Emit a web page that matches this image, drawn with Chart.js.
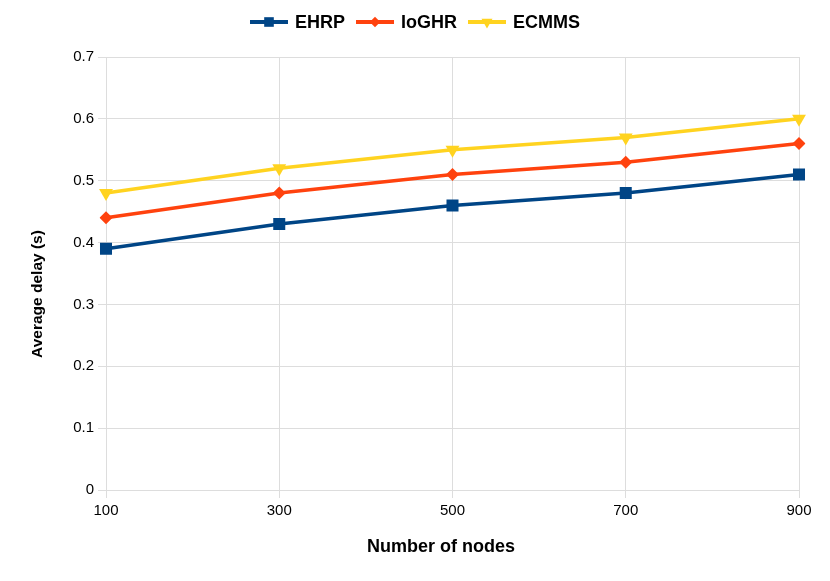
<!DOCTYPE html>
<html>
<head>
<meta charset="utf-8">
<script src="https://cdn.jsdelivr.net/npm/chart.js@4.4.0/dist/chart.umd.min.js"></script>
<style>
  html, body { margin: 0; padding: 0; background: #ffffff; }
  #wrap { width: 830px; height: 581px; }
</style>
</head>
<body>
<div id="wrap"><canvas id="lineChart" width="830" height="581"></canvas></div>
<script>
// data
var nodes = ["100", "300", "500", "700", "900"];
var ehrp = [0.39, 0.43, 0.46, 0.48, 0.51];
var ioghr = [0.44, 0.48, 0.51, 0.53, 0.56];
var ecmms = [0.48, 0.52, 0.55, 0.57, 0.60];
var seriesNames = ["EHRP", "IoGHR", "ECMMS"];
var xTitle = "Number of nodes";
var yTitle = "Average delay (s)";

var fontFamily = "'Liberation Sans', Arial, sans-serif";

// legend + axis titles drawn by hand (office style: line with marker in the middle)
var handDrawn = {
  id: "handDrawn",
  afterDraw: function (chart) {
    var ctx = chart.ctx;
    var sets = chart.data.datasets;
    var lineLen = 38, gap = 7, itemGap = 11, y = 22;
    ctx.save();
    ctx.font = "bold 18px " + fontFamily;
    var total = 0;
    var widths = sets.map(function (ds) {
      var w = ctx.measureText(ds.label).width;
      total += lineLen + gap + w;
      return w;
    });
    total += itemGap * (sets.length - 1);
    var x = (chart.width - total) / 2;
    sets.forEach(function (ds, i) {
      ctx.strokeStyle = ds.borderColor;
      ctx.lineWidth = 4;
      ctx.beginPath();
      ctx.moveTo(x, y);
      ctx.lineTo(x + lineLen, y);
      ctx.stroke();
      ctx.fillStyle = ds.borderColor;
      Chart.helpers.drawPoint(ctx, {
        pointStyle: ds.pointStyle,
        radius: ds.pointRadius * 0.8,
        rotation: ds.pointRotation || 0,
        borderWidth: 0
      }, x + lineLen / 2, y);
      ctx.fillStyle = "#000000";
      ctx.textBaseline = "middle";
      ctx.textAlign = "left";
      ctx.fillText(ds.label, x + lineLen + gap, y + 1);
      x += lineLen + gap + widths[i] + itemGap;
    });

    // axis titles
    ctx.fillStyle = "#000000";
    ctx.textAlign = "center";
    ctx.textBaseline = "middle";
    ctx.font = "bold 18px " + fontFamily;
    ctx.fillText(xTitle, 441, 547);
    ctx.translate(38, 294);
    ctx.rotate(-Math.PI / 2);
    ctx.font = "bold 15.5px " + fontFamily;
    ctx.fillText(yTitle, 0, 0);
    ctx.restore();
  }
};

function makeSet(label, values, color, style, radius, rotation) {
  return {
    label: label,
    data: values,
    borderColor: color,
    backgroundColor: color,
    borderWidth: 3.5,
    pointStyle: style,
    pointRadius: radius,
    pointHoverRadius: radius,
    pointRotation: rotation,
    pointBorderWidth: 0,
    tension: 0
  };
}

new Chart(document.getElementById("lineChart"), {
  type: "line",
  data: {
    labels: nodes,
    datasets: [
      makeSet(seriesNames[0], ehrp, "#004586", "rect", 8.5, 0),
      makeSet(seriesNames[1], ioghr, "#ff420e", "rectRot", 6.5, 0),
      makeSet(seriesNames[2], ecmms, "#ffd320", "triangle", 8, 180)
    ]
  },
  options: {
    responsive: false,
    animation: false,
    layout: { padding: { top: 57, right: 31, bottom: 0, left: 0 } },
    plugins: {
      legend: { display: false },
      tooltip: { enabled: false }
    },
    scales: {
      x: {
        offset: false,
        grid: { color: "#dddddd", tickLength: 8, lineWidth: 1 },
        border: { color: "#dddddd" },
        ticks: { color: "#000000", padding: 4, font: { family: fontFamily, size: 15 }, maxRotation: 0 },
        afterFit: function (scale) { scale.height = 91; }
      },
      y: {
        min: 0,
        max: 0.7,
        grid: { color: "#dddddd", tickLength: 8, lineWidth: 1 },
        border: { color: "#dddddd" },
        ticks: { stepSize: 0.1, color: "#000000", padding: 4, font: { family: fontFamily, size: 15 } },
        afterFit: function (scale) { scale.width = 106; }
      }
    }
  },
  plugins: [handDrawn]
});
</script>
</body>
</html>
